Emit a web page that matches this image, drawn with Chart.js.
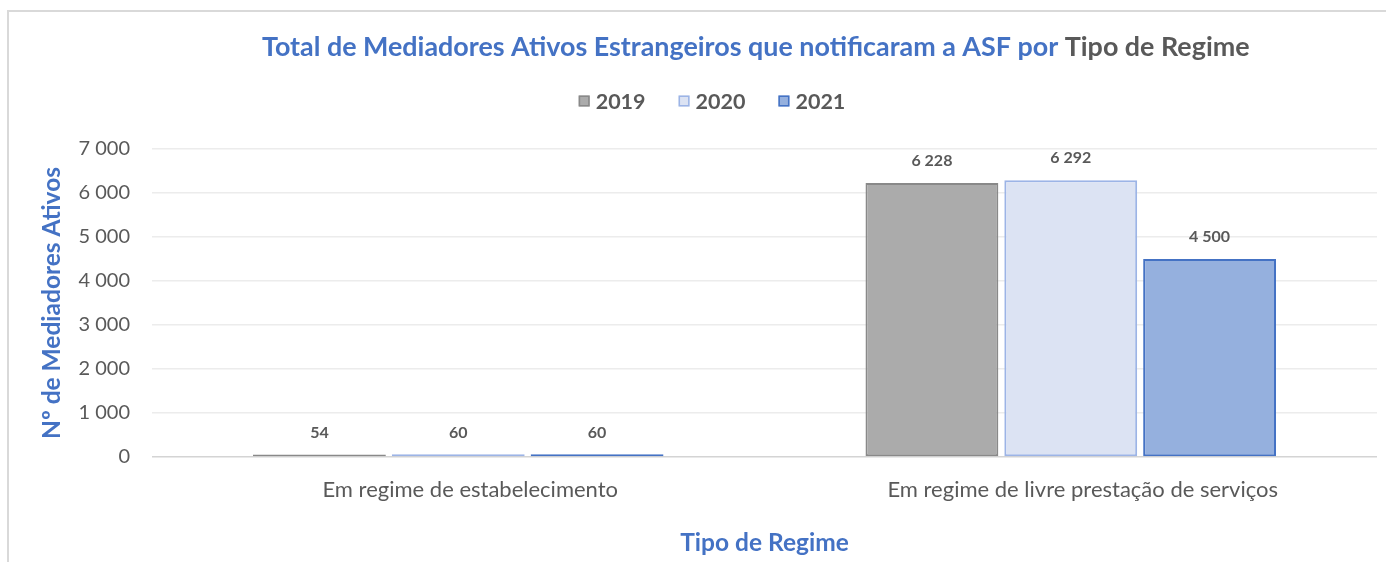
<!DOCTYPE html>
<html lang="pt">
<head>
<meta charset="utf-8">
<title>Mediadores Ativos Estrangeiros</title>
<script src="https://cdn.jsdelivr.net/npm/chart.js@4/dist/chart.umd.min.js"></script>
<style>
  html, body { margin: 0; padding: 0; background: #ffffff; }
  #wrap { position: relative; width: 1386px; height: 562px; }
</style>
</head>
<body>
<div id="wrap"><canvas id="chart" width="1386" height="562"></canvas></div>
<script>
// Dados
const categorias = ['Em regime de estabelecimento', 'Em regime de livre prestação de serviços'];
const anos = ['2019', '2020', '2021'];
const valores2019 = [54, 6228];
const valores2020 = [60, 6292];
const valores2021 = [60, 4500];
const yTicks = [0, 1000, 2000, 3000, 4000, 5000, 6000, 7000];

const tituloAzul = 'Total de Mediadores Ativos Estrangeiros que notificaram a ASF por ';
const tituloCinza = 'Tipo de Regime';

const FONT = 'Lato, "Open Sans", "Noto Sans", sans-serif';
const AZUL = '#4472C4';
const CINZA = '#595959';

// formato "6 228"
function fmt(v) {
    return String(v).replace(/\B(?=(\d{3})+(?!\d))/g, ' ');
}

// Moldura, título e legenda
const decoracao = {
    id: 'decoracao',
    beforeDraw(chart) {
        const ctx = chart.ctx;
        ctx.save();
        ctx.fillStyle = '#ffffff';
        ctx.fillRect(0, 0, chart.width, chart.height);
        ctx.strokeStyle = '#d9d9d9';
        ctx.lineWidth = 2;
        ctx.beginPath();
        ctx.moveTo(8, chart.height);
        ctx.lineTo(8, 11);
        ctx.lineTo(chart.width, 11);
        ctx.stroke();
        ctx.restore();
    },
    afterDraw(chart) {
        const ctx = chart.ctx;
        ctx.save();
        // título em duas cores
        let size = 22;
        ctx.font = 'bold ' + size + 'px ' + FONT;
        const w0 = ctx.measureText(tituloAzul + tituloCinza).width;
        size = size * 988 / w0;
        ctx.font = 'bold ' + size.toFixed(2) + 'px ' + FONT;
        ctx.textBaseline = 'middle';
        ctx.textAlign = 'left';
        let x = 262;
        ctx.fillStyle = AZUL;
        ctx.fillText(tituloAzul, x, 47);
        x += ctx.measureText(tituloAzul).width;
        ctx.fillStyle = CINZA;
        ctx.fillText(tituloCinza, x, 47);

        // legenda
        ctx.font = 'bold 21.5px ' + FONT;
        const box = 11, gapTxt = 6, gapItem = 33;
        const itens = chart.data.datasets.map(ds => ({
            label: ds.label, fill: ds.backgroundColor, stroke: ds.borderColor,
            w: box + gapTxt + ctx.measureText(ds.label).width
        }));
        const total = itens.reduce((a, it) => a + it.w, 0) + gapItem * (itens.length - 1);
        let lx = 712 - total / 2;
        const ly = 101;
        itens.forEach(it => {
            ctx.fillStyle = it.fill;
            ctx.fillRect(lx, ly - box / 2, box, box);
            ctx.strokeStyle = it.stroke;
            ctx.lineWidth = 1.5;
            ctx.strokeRect(lx + 0.75, ly - box / 2 + 0.75, box - 1.5, box - 1.5);
            ctx.fillStyle = CINZA;
            ctx.fillText(it.label, lx + box + gapTxt, ly + 1);
            lx += it.w + gapItem;
        });
        ctx.restore();
    }
};

// Rótulos de valor por cima das barras
const rotulos = {
    id: 'rotulos',
    afterDatasetsDraw(chart) {
        const ctx = chart.ctx;
        ctx.save();
        ctx.font = 'bold 16px ' + FONT;
        ctx.fillStyle = CINZA;
        ctx.textAlign = 'center';
        ctx.textBaseline = 'middle';
        chart.data.datasets.forEach((ds, i) => {
            chart.getDatasetMeta(i).data.forEach((bar, j) => {
                ctx.fillText(fmt(ds.data[j]), bar.x, bar.y - 22);
            });
        });
        ctx.restore();
    }
};

const ctx = document.getElementById('chart');

new Chart(ctx, {
    type: 'bar',
    data: {
        labels: categorias,
        datasets: [
            { label: anos[0], data: valores2019, backgroundColor: '#ABABAB', borderColor: '#898989' },
            { label: anos[1], data: valores2020, backgroundColor: '#DCE3F3', borderColor: '#9CB4E6' },
            { label: anos[2], data: valores2021, backgroundColor: '#95B0DE', borderColor: '#4472C4' }
        ]
    },
    options: {
        responsive: false,
        animation: false,
        layout: { padding: { top: 149, right: 9, bottom: 0, left: 0 } },
        datasets: {
            bar: {
                borderWidth: 2,
                borderSkipped: false,
                categoryPercentage: 0.68,
                barPercentage: 0.957
            }
        },
        plugins: {
            legend: { display: false },
            title: { display: false },
            tooltip: { enabled: false }
        },
        scales: {
            x: {
                grid: { display: false, drawTicks: false },
                border: { display: false },
                ticks: {
                    color: CINZA,
                    font: { family: FONT, size: 22 },
                    padding: 20,
                    labelOffset: 12,
                    maxRotation: 0
                },
                title: {
                    display: true,
                    text: 'Tipo de Regime',
                    color: AZUL,
                    font: { family: FONT, size: 24.5, weight: 'bold' },
                    padding: { top: 0, bottom: 4 }
                },
                afterFit(scale) {
                    scale.height = 105;
                    scale.paddingLeft = 0;
                    scale.paddingRight = 0;
                }
            },
            y: {
                min: 0,
                max: 7000,
                afterBuildTicks(scale) {
                    scale.ticks = yTicks.map(v => ({ value: v }));
                },
                grid: {
                    drawTicks: false,
                    lineWidth: 1.5,
                    color: c => c.tick && c.tick.value === 0 ? '#d4d4d4' : '#ececec'
                },
                border: { display: false },
                ticks: {
                    color: CINZA,
                    font: { family: FONT, size: 20 },
                    padding: 22,
                    callback: v => fmt(v)
                },
                title: {
                    display: true,
                    text: 'Nº de Mediadores Ativos',
                    color: AZUL,
                    font: { family: FONT, size: 24.5, weight: 'bold' },
                    padding: { top: 37, bottom: 0 }
                },
                afterFit(scale) {
                    scale.width = 152;
                    scale.paddingTop = 0;
                    scale.paddingBottom = 0;
                }
            }
        }
    },
    plugins: [decoracao, rotulos]
});
</script>
</body>
</html>
